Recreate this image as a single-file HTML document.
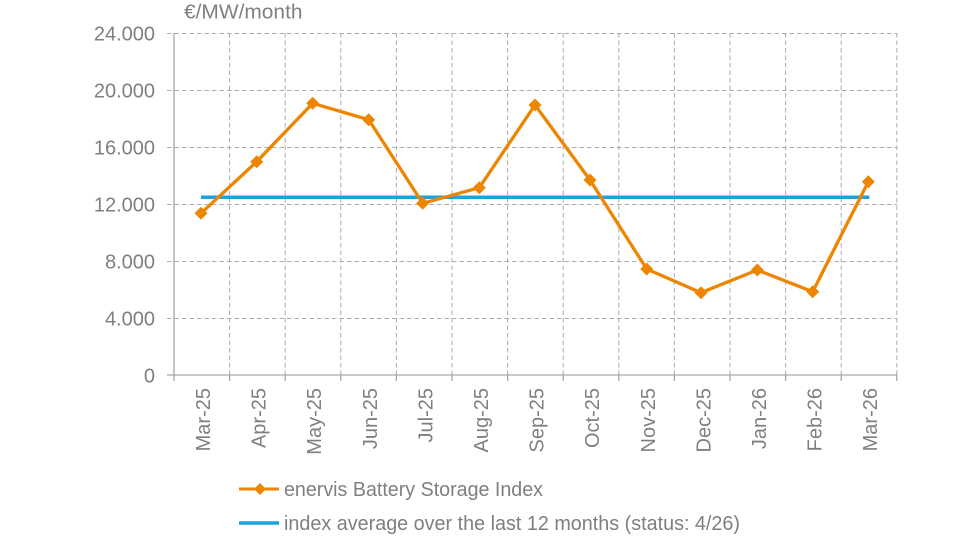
<!DOCTYPE html>
<html><head><meta charset="utf-8"><style>
html,body{margin:0;padding:0;background:#fff;}
svg{display:block;}
text{font-family:"Liberation Sans",Arial,sans-serif;fill:#7f7f7f;}
</style></head><body>
<svg width="975" height="557" viewBox="0 0 975 557" xmlns="http://www.w3.org/2000/svg">
<rect width="975" height="557" fill="#fff"/>
<text x="184" y="18.5" font-size="20" textLength="118.5" lengthAdjust="spacingAndGlyphs">€/MW/month</text>
<g stroke="#ababab" stroke-width="1" stroke-dasharray="4.5,3" fill="none">
<line x1="167" y1="33.5" x2="897" y2="33.5"/>
<line x1="167" y1="90.5" x2="897" y2="90.5"/>
<line x1="167" y1="147.5" x2="897" y2="147.5"/>
<line x1="167" y1="204.5" x2="897" y2="204.5"/>
<line x1="167" y1="261.5" x2="897" y2="261.5"/>
<line x1="167" y1="318.5" x2="897" y2="318.5"/>
<line x1="229.6" y1="33" x2="229.6" y2="375"/>
<line x1="285.2" y1="33" x2="285.2" y2="375"/>
<line x1="340.8" y1="33" x2="340.8" y2="375"/>
<line x1="396.4" y1="33" x2="396.4" y2="375"/>
<line x1="452" y1="33" x2="452" y2="375"/>
<line x1="507.6" y1="33" x2="507.6" y2="375"/>
<line x1="563.2" y1="33" x2="563.2" y2="375"/>
<line x1="618.8" y1="33" x2="618.8" y2="375"/>
<line x1="674.4" y1="33" x2="674.4" y2="375"/>
<line x1="730" y1="33" x2="730" y2="375"/>
<line x1="785.6" y1="33" x2="785.6" y2="375"/>
<line x1="841.2" y1="33" x2="841.2" y2="375"/>
<line x1="896.8" y1="33" x2="896.8" y2="375"/>
</g>
<g stroke="#a6a6a6" stroke-width="1.3" fill="none">
<line x1="174" y1="33" x2="174" y2="375"/>
<line x1="167" y1="375" x2="897" y2="375"/>
<line x1="174" y1="375" x2="174" y2="381"/>
<line x1="229.6" y1="375" x2="229.6" y2="381"/>
<line x1="285.2" y1="375" x2="285.2" y2="381"/>
<line x1="340.8" y1="375" x2="340.8" y2="381"/>
<line x1="396.4" y1="375" x2="396.4" y2="381"/>
<line x1="452" y1="375" x2="452" y2="381"/>
<line x1="507.6" y1="375" x2="507.6" y2="381"/>
<line x1="563.2" y1="375" x2="563.2" y2="381"/>
<line x1="618.8" y1="375" x2="618.8" y2="381"/>
<line x1="674.4" y1="375" x2="674.4" y2="381"/>
<line x1="730" y1="375" x2="730" y2="381"/>
<line x1="785.6" y1="375" x2="785.6" y2="381"/>
<line x1="841.2" y1="375" x2="841.2" y2="381"/>
<line x1="896.8" y1="375" x2="896.8" y2="381"/>
</g>
<g font-size="20" text-anchor="end">
<text x="155" y="40.5">24.000</text>
<text x="155" y="97.5">20.000</text>
<text x="155" y="154.5">16.000</text>
<text x="155" y="211.5">12.000</text>
<text x="155" y="268.5">8.000</text>
<text x="155" y="325.5">4.000</text>
<text x="155" y="382.5">0</text>
</g>
<g font-size="20" text-anchor="end">
<text transform="translate(210,388) rotate(-90)">Mar-25</text>
<text transform="translate(265.6,388) rotate(-90)">Apr-25</text>
<text transform="translate(321.2,388) rotate(-90)">May-25</text>
<text transform="translate(376.8,388) rotate(-90)">Jun-25</text>
<text transform="translate(432.4,388) rotate(-90)">Jul-25</text>
<text transform="translate(488,388) rotate(-90)">Aug-25</text>
<text transform="translate(543.6,388) rotate(-90)">Sep-25</text>
<text transform="translate(599.2,388) rotate(-90)">Oct-25</text>
<text transform="translate(654.8,388) rotate(-90)">Nov-25</text>
<text transform="translate(710.4,388) rotate(-90)">Dec-25</text>
<text transform="translate(766,388) rotate(-90)">Jan-26</text>
<text transform="translate(821.6,388) rotate(-90)">Feb-26</text>
<text transform="translate(877.2,388) rotate(-90)">Mar-26</text>
</g>
<line x1="201" y1="197.3" x2="869.3" y2="197.3" stroke="#1aa3de" stroke-width="3.5"/>
<polyline fill="none" stroke="#ee8500" stroke-width="3.3" stroke-linejoin="round" points="201,213.3 256.7,161.7 312.7,103.3 368.7,119.7 422.7,203.3 479.3,187.7 535,105 590,180 646.7,269 701,292.7 757.3,270 812.7,291.7 868.3,181.7"/>
<g fill="#ee8500">
<path d="M201 206.8 L207.5 213.3 L201 219.8 L194.5 213.3Z"/>
<path d="M256.7 155.2 L263.2 161.7 L256.7 168.2 L250.2 161.7Z"/>
<path d="M312.7 96.8 L319.2 103.3 L312.7 109.8 L306.2 103.3Z"/>
<path d="M368.7 113.2 L375.2 119.7 L368.7 126.2 L362.2 119.7Z"/>
<path d="M422.7 196.8 L429.2 203.3 L422.7 209.8 L416.2 203.3Z"/>
<path d="M479.3 181.2 L485.8 187.7 L479.3 194.2 L472.8 187.7Z"/>
<path d="M535 98.5 L541.5 105 L535 111.5 L528.5 105Z"/>
<path d="M590 173.5 L596.5 180 L590 186.5 L583.5 180Z"/>
<path d="M646.7 262.5 L653.2 269 L646.7 275.5 L640.2 269Z"/>
<path d="M701 286.2 L707.5 292.7 L701 299.2 L694.5 292.7Z"/>
<path d="M757.3 263.5 L763.8 270 L757.3 276.5 L750.8 270Z"/>
<path d="M812.7 285.2 L819.2 291.7 L812.7 298.2 L806.2 291.7Z"/>
<path d="M868.3 175.2 L874.8 181.7 L868.3 188.2 L861.8 181.7Z"/>
</g>
<line x1="239" y1="489" x2="279" y2="489" stroke="#ee8500" stroke-width="3"/>
<path d="M260 483 L266 489 L260 495 L254 489Z" fill="#ee8500"/>
<line x1="239" y1="523" x2="279" y2="523" stroke="#1aa3de" stroke-width="3.5"/>
<text x="284" y="496" font-size="20" textLength="259" lengthAdjust="spacingAndGlyphs">enervis Battery Storage Index</text>
<text x="284" y="530" font-size="20" textLength="456" lengthAdjust="spacingAndGlyphs">index average over the last 12 months (status: 4/26)</text>
</svg>
</body></html>
